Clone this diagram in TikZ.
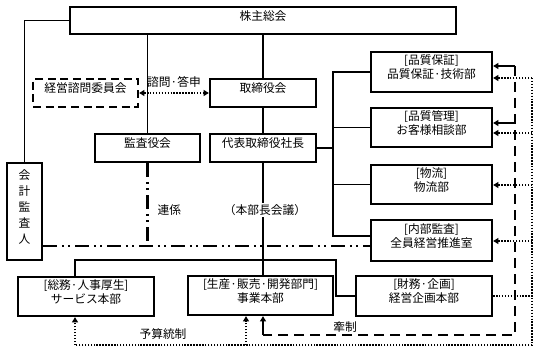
\documentclass[tikz,border=0pt]{standalone}
\usepackage{fontspec}
\setmainfont{Noto Sans CJK JP}
\usetikzlibrary{arrows.meta,fit}
\begin{document}
\begin{tikzpicture}[x=0.75pt,y=-0.75pt,
  font=\fontsize{8.8}{10.5}\selectfont,
  box/.style={draw,line width=1.7pt,inner sep=0pt,align=center},
  dbox/.style={box,dash pattern=on 6pt off 3.5pt},
  conn/.style={line width=1.2pt},
  tip/.style={-{Triangle[length=4pt,width=4.5pt]}},
  tips/.style={{Triangle[length=4pt,width=4.5pt]}-{Triangle[length=4pt,width=4.5pt]}},
  dots/.style={line width=1.6pt,dash pattern=on 1.1pt off 1.1pt},
  dashl/.style={line width=1.6pt,dash pattern=on 7.5pt off 4.5pt},
  dashdot/.style={line width=1.6pt,dash pattern=on 10.5pt off 3.5pt on 1.5pt off 3.5pt on 1.5pt off 3.5pt},
  lbl/.style={inner sep=1pt}]
\useasboundingbox (0,0) rectangle (539,353);
% boxes
\node[box,fit={(70,7) (456,34)}] (sh) {株主総会};
\node[box,fit={(7,163) (42,260)},font=\fontsize{8.8}{12}\selectfont] (aud) {会\\計\\監\\査\\人};
\node[dbox,fit={(33,79) (138,107)}] (adv) {経営諮問委員会};
\node[box,fit={(210,79) (316,107)}] (bod) {取締役会};
\node[box,fit={(95,134) (200,162)}] (kansa) {監査役会};
\node[box,fit={(210,134) (316,162)}] (ceo) {代表取締役社長};
\node[box,fit={(371,52) (492,92)}] (qa) {[品質保証]\\品質保証·技術部};
\node[box,fit={(371,108) (492,147)}] (qm) {[品質管理]\\お客様相談部};
\node[box,fit={(371,165) (492,204)}] (log) {[物流]\\物流部};
\node[box,fit={(371,220) (492,261)}] (ia) {[内部監査]\\全員経営推進室};
\node[box,fit={(18,277) (154,316)}] (gen) {[総務·人事厚生]\\サービス本部};
\node[box,fit={(188,276) (333,315)}] (biz) {[生産·販売·開発部門]\\事業本部};
\node[box,fit={(356,276) (492,316)}] (fin) {[財務·企画]\\経営企画本部};
% coordinates
\coordinate (bus) at (333,236);
\coordinate (hl) at (75,260);
\coordinate (hr) at (336,260);
\coordinate (dd) at (0,246);
\coordinate (d1) at (515,66);
\coordinate (d1b) at (515,123);
\coordinate (d2) at (515,335);
\coordinate (d3) at (263,335);
\coordinate (p1) at (532,78);
\coordinate (p2) at (532,345);
\coordinate (p3) at (75,345);
\coordinate (p4) at (246,345);
% solid connectors
\draw[conn] (sh.west) -| (aud.north);
\draw[conn] (sh.south -| kansa.north) -- (kansa.north);
\draw[conn] (sh.south -| bod.north) -- (bod.north);
\draw[conn] (bod.south) -- (ceo.north);
\draw[conn] (ceo.east) -- (ceo.east -| bus);
\draw[conn] (qa.west) -| (bus) -- (bus -| ia.west);
\draw[conn] (qm.west) -- (qm.west -| bus);
\draw[conn] (log.west) -- (log.west -| bus);
\draw[conn] (ceo.south) -- (ceo.south |- hr);
\draw[conn] (hl |- gen.north) -- (hl) -- (hr) |- (fin.west);
\draw[conn] (ceo.south |- hr) -- (ceo.south |- biz.north);
\node[lbl,fill=white] (honbu) at (265,210) {（本部長会議）};
% advisory
\draw[dots,tips] (adv.east) -- (bod.west);
\node[lbl] (shimon) at (174,82) {諮問·答申};
% dash-dot
\draw[dashdot] (aud.east |- dd) -- (ia.west |- dd);
\draw[dashdot] (kansa.south) -- (kansa.south |- dd);
\node[lbl,anchor=west] (renkei) at (156,210) {連係};
% dashed (牽制)
\draw[dashl] (d1) -- (d2) -- (d3);
\draw[conn,tip] (d1) -- (d1 -| qa.east);
\draw[conn,tip] (d1b) -- (d1b -| qm.east);
\draw[line width=1.6pt,tip] (d3) -- (d3 |- biz.south);
\node[lbl] (kensei) at (345,327) {牽制};
% dotted (予算統制)
\draw[dots] (fin.east) -- (fin.east -| p1);
\draw[dots] (p1) -- (p2) -- (p3);
\draw[dots,tip] (p3) -- (p3 |- gen.south);
\draw[dots,tip] (p4) -- (p4 |- biz.south);
\draw[dots,tip] (p1) -- (p1 -| qa.east);
\draw[dots,tip] (532,133) -- (qm.east |- 0,133);
\draw[dots,tip] (532,185) -- (log.east |- 0,185);
\draw[dots,tip] (532,241) -- (ia.east |- 0,241);
\node[lbl] (yosan) at (163,334) {予算統制};
\end{tikzpicture}
\end{document}
